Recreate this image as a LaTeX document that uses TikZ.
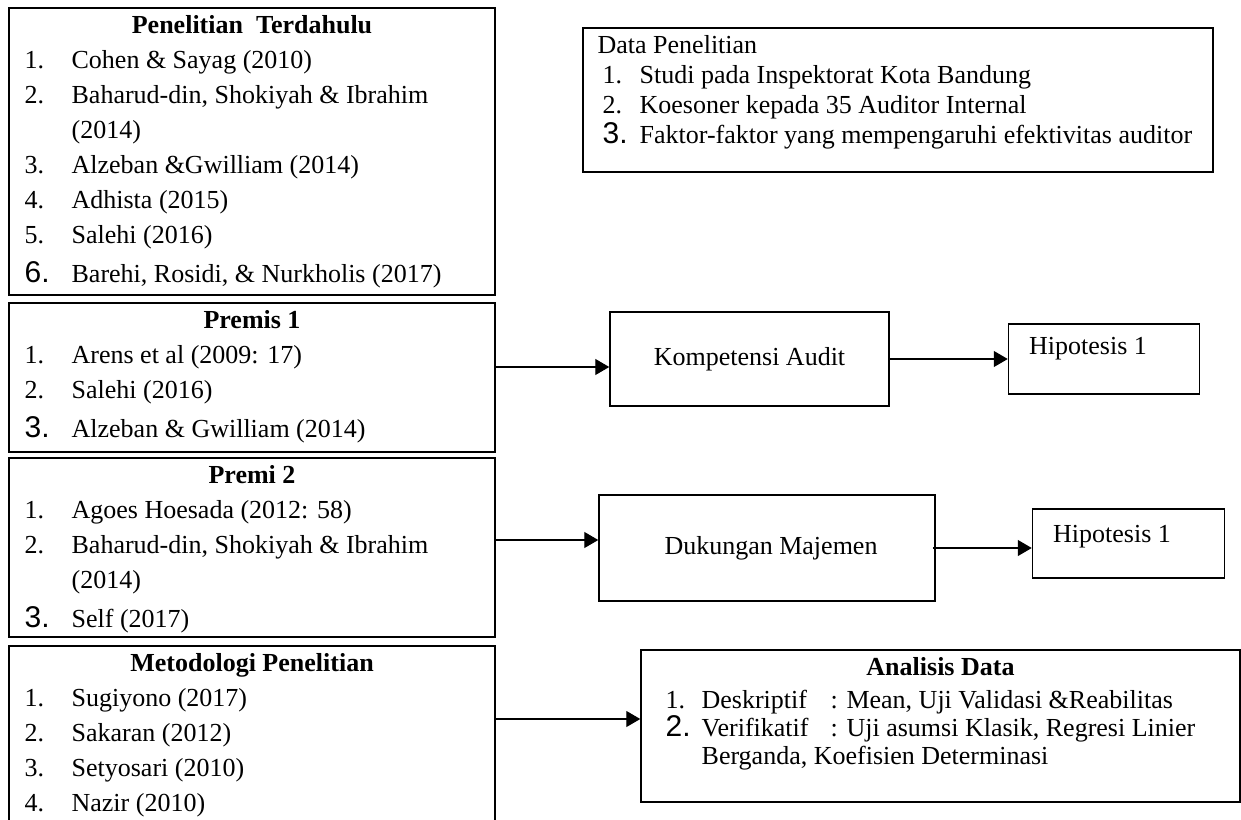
\documentclass[tikz,border=0pt]{standalone}
\usepackage{fontspec}
\setmainfont{Liberation Serif}
\newfontfamily\numfont{Liberation Sans}
\usetikzlibrary{positioning, arrows.meta}

\tikzstyle{box} = [
    rectangle, draw=black, line width=0.75pt, inner sep=0pt,
    font=\fontsize{13}{17.5}\selectfont
]
\tikzstyle{txt} = [inner sep=0pt, font=\fontsize{13}{17.5}\selectfont]
\tikzstyle{head} = [inner sep=0pt, font=\fontsize{13}{17.5}\selectfont\bfseries]
\tikzstyle{list} = [txt, align=left, anchor=north west]
\tikzstyle{arrow} = [line width=0.6pt, -{Triangle[length=7pt, width=8pt]}]

% one numbered line of a list
\newcommand{\itm}[3][23.5pt]{\makebox[#1][l]{#2}#3\strut}
\newcommand{\bignum}[1]{{\numfont\fontsize{15}{17.5}\selectfont #1}}
\newcommand{\tightskip}{\lineskiplimit=-20pt\relax}

\begin{document}
\begin{tikzpicture}[x=0.5pt, y=-0.5pt]
    \useasboundingbox (0,0) rectangle (1241,819);

    % left column boxes
    \node[box, minimum width=243pt, minimum height=143.5pt] (terdahulu) at (252,151.5) {};
    \node[box, minimum width=243pt, minimum height=74.5pt] (premis1) at (252,377.5) {};
    \node[box, minimum width=243pt, minimum height=89.5pt] (premis2) at (252,547.5) {};
    \node[box, minimum width=243pt, minimum height=97pt] (metodologi) at (252,743) {};

    % left column texts
    \node[head, anchor=base] (terdahulu_head) at ([yshift=-13pt]terdahulu.north) {Penelitian~ Terdahulu};
    \node[list] (terdahulu_list) at ([xshift=8pt, yshift=-18.25pt]terdahulu.north west) {
        \itm{1.}{Cohen \& Sayag (2010)}\\
        \itm{2.}{Baharud-din, Shokiyah \& Ibrahim}\\
        \itm{}{(2014)}\\
        \itm{3.}{Alzeban \&Gwilliam (2014)}\\
        \itm{4.}{Adhista (2015)}\\
        \itm{5.}{Salehi (2016)}\\[2pt]
        \itm{\bignum{6.}}{Barehi, Rosidi, \& Nurkholis (2017)}};

    \node[head, anchor=base] (premis1_head) at ([yshift=-13pt]premis1.north) {Premis 1};
    \node[list] (premis1_list) at ([xshift=8pt, yshift=-18.25pt]premis1.north west) {
        \itm{1.}{Arens et al (2009: 17)}\\
        \itm{2.}{Salehi (2016)}\\[2pt]
        \itm{\bignum{3.}}{Alzeban \& Gwilliam (2014)}};

    \node[head, anchor=base] (premis2_head) at ([yshift=-13pt]premis2.north) {Premi 2};
    \node[list] (premis2_list) at ([xshift=8pt, yshift=-18.25pt]premis2.north west) {
        \itm{1.}{Agoes Hoesada (2012: 58)}\\
        \itm{2.}{Baharud-din, Shokiyah \& Ibrahim}\\
        \itm{}{(2014)}\\[2pt]
        \itm{\bignum{3.}}{Self (2017)}};

    \node[head, anchor=base] (metodologi_head) at ([yshift=-13pt]metodologi.north) {Metodologi Penelitian};
    \node[list] (metodologi_list) at ([xshift=8pt, yshift=-18.25pt]metodologi.north west) {
        \itm{1.}{Sugiyono (2017)}\\
        \itm{2.}{Sakaran (2012)}\\
        \itm{3.}{Setyosari (2010)}\\
        \itm{4.}{Nazir (2010)}};

    % data box
    \node[box, minimum width=315pt, minimum height=72pt] (data) at (898,100) {};
    \node[list, font=\fontsize{13}{15}\selectfont] (data_list) at ([xshift=7.5pt, yshift=-2.5pt]data.north west) {
        Data Penelitian\strut\\
        \hspace*{2.5pt}\itm[18.5pt]{1.}{Studi pada Inspektorat Kota Bandung}\\
        \hspace*{2.5pt}\itm[18.5pt]{2.}{Koesoner kepada 35 Auditor Internal}\\
        \hspace*{2.5pt}\itm[18.5pt]{\bignum{3.}}{Faktor-faktor yang mempengaruhi efektivitas auditor}};

    % variables and hypotheses
    \node[box, minimum width=139.5pt, minimum height=47pt] (kompetensi) at (749.5,359) {Kompetensi Audit};
    \node[box, minimum width=95.5pt, minimum height=35pt] (hipo1) [right=59pt of kompetensi] {};
    \node[txt, anchor=west] (hipo1_text) at ([xshift=10.5pt, yshift=5pt]hipo1.west) {Hipotesis 1};

    \node[box, minimum width=168pt, minimum height=53pt] (dukungan) at (767,548) {\hspace*{4pt}Dukungan Majemen};
    \node[box, minimum width=96pt, minimum height=34.5pt] (hipo2) [right=48pt of dukungan, yshift=2.25pt] {};
    \node[txt, anchor=west] (hipo2_text) at ([xshift=10.5pt, yshift=3.25pt]hipo2.west) {Hipotesis 1};

    % analysis box
    \node[box, minimum width=299.5pt, minimum height=76pt] (analisis) at (940.5,726) {};
    \node[head, anchor=base] (analisis_head) at ([yshift=-13pt]analisis.north) {Analisis Data};
    \node[list, font=\fontsize{13}{14}\selectfont\tightskip] (analisis_list) at ([xshift=12.5pt, yshift=-19.7pt]analisis.north west) {
        \itm[18pt]{1.}{\makebox[64.5pt][l]{Deskriptif}: Mean, Uji Validasi \&Reabilitas}\\
        \itm[18pt]{\bignum{2.}}{\makebox[64.5pt][l]{Verifikatif}: Uji asumsi Klasik, Regresi Linier}\\
        \itm[18pt]{}{Berganda, Koefisien Determinasi}};

    % arrows
    \coordinate (kompetensi_in) at ([yshift=-4pt]kompetensi.west);
    \draw[arrow] (premis1.east |- kompetensi_in) -- (kompetensi_in);
    \draw[arrow] (kompetensi.east) -- (kompetensi.east -| hipo1.west);

    \coordinate (dukungan_in) at ([yshift=4pt]dukungan.west);
    \draw[arrow] (premis2.east |- dukungan_in) -- (dukungan_in);
    \draw[arrow] ([xshift=-1.5pt]dukungan.east) -- (dukungan.east -| hipo2.west);

    \coordinate (analisis_in) at ([yshift=3.5pt]analisis.west);
    \draw[arrow] (metodologi.east |- analisis_in) -- (analisis_in);
\end{tikzpicture}
\end{document}
